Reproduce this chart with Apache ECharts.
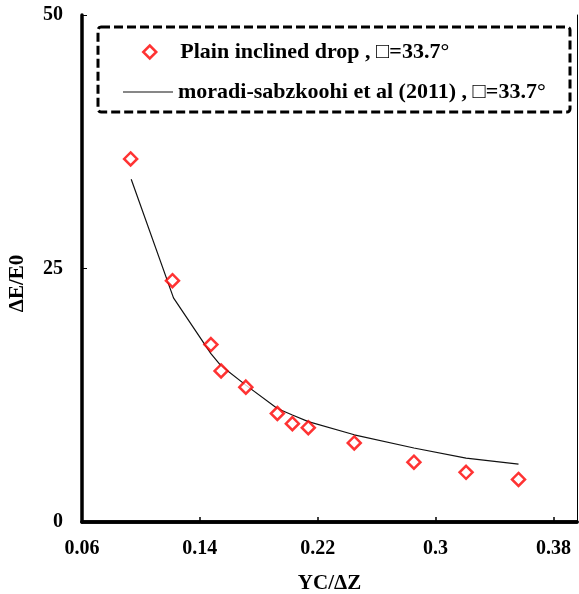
<!DOCTYPE html>
<html>
<head>
<meta charset="utf-8">
<script src="https://cdn.jsdelivr.net/npm/echarts@6/dist/echarts.min.js"></script>
<style>
html,body{margin:0;padding:0;background:#fff;}
#c{width:579px;height:594px;}
</style>
</head>
<body>
<div id="c"></div>
<script>
// Observed data: Plain inclined drop
const obsX = [0.0930, 0.1214, 0.1475, 0.1544, 0.1712, 0.1926, 0.2028, 0.2136, 0.2448, 0.2853, 0.3207, 0.3563];
const obsY = [35.8, 23.8, 17.5, 14.9, 13.3, 10.7, 9.7, 9.3, 7.8, 5.9, 4.9, 4.2];
// Model: moradi-sabzkoohi et al (2011)
const modelX = [0.0934, 0.1221, 0.1475, 0.1544, 0.1712, 0.1926, 0.2028, 0.2136, 0.2448, 0.2853, 0.3207, 0.3563];
const modelY = [33.8, 22.1, 16.6, 15.4, 13.5, 11.2, 10.55, 9.9, 8.6, 7.3, 6.3, 5.7];
const seriesNames = ['Plain inclined drop , \u25A1=33.7\u00B0', 'moradi-sabzkoohi et al (2011) , \u25A1=33.7\u00B0'];
const xTitle = 'YC/\u0394Z';
const yTitle = '\u0394E/E0';

const FONT = '"Liberation Serif", "Times New Roman", serif';
const legendText = {fontFamily: FONT, fontWeight: 'bold', fontSize: 22, color: '#000', lineHeight: 24};
const chart = echarts.init(document.getElementById('c'));
chart.setOption({
  animation: false,
  backgroundColor: '#fff',
  grid: {left: 82, right: 2, top: 15, bottom: 72, containLabel: false, outerBoundsMode: 'none'},
  graphic: [{
    type: 'rect', z: 1,
    shape: {x: 98, y: 27, width: 472, height: 85, r: 3},
    style: {fill: 'none', stroke: '#000', lineWidth: 3, lineDash: [9, 4]}
  }],
  legend: [{
    orient: 'vertical', left: 142, top: 40, padding: 0,
    itemWidth: 13, itemHeight: 13,
    textStyle: Object.assign({padding: [0, 0, 0, 19]}, legendText),
    data: [
      {name: seriesNames[0], icon: 'diamond', itemStyle: {color: '#fff', borderColor: '#f00', borderWidth: 2.5}}
    ]
  }, {
    orient: 'vertical', left: 123, top: 80, padding: 0,
    itemWidth: 50, itemHeight: 13,
    textStyle: legendText,
    data: [
      {name: seriesNames[1], icon: 'path://M0,0H50V1.2H0Z', itemStyle: {color: '#111', borderWidth: 0}}
    ]
  }],
  xAxis: [{
    type: 'value', min: 0.06, max: 0.396, interval: 0.08,
    axisLine: {lineStyle: {color: '#000', width: 3.5}},
    axisTick: {inside: true, length: 5, lineStyle: {color: '#000', width: 1.5}},
    splitLine: {show: false},
    axisLabel: {showMaxLabel: false, margin: 17, fontFamily: FONT, fontWeight: 'bold', fontSize: 20, color: '#000'},
    name: xTitle, nameLocation: 'middle', nameGap: 51,
    nameTextStyle: {fontFamily: FONT, fontWeight: 'bold', fontSize: 21, color: '#000'}
  }, {
    type: 'value', position: 'top', min: 0.06, max: 0.396,
    axisLine: {lineStyle: {color: '#000', width: 3.5}},
    axisTick: {show: false}, axisLabel: {show: false}, splitLine: {show: false}
  }],
  yAxis: [{
    type: 'value', min: 0, max: 50, interval: 25,
    axisLine: {show: true, lineStyle: {color: '#000', width: 3.5}},
    axisTick: {show: true, inside: true, length: 5, lineStyle: {color: '#000', width: 1}},
    splitLine: {show: false},
    axisLabel: {margin: 19, fontFamily: FONT, fontWeight: 'bold', fontSize: 20, color: '#000'},
    name: yTitle, nameLocation: 'middle', nameGap: 54, nameRotate: 90,
    nameTextStyle: {fontFamily: FONT, fontWeight: 'bold', fontSize: 21, color: '#000', padding: [0, 30, 0, 0]}
  }, {
    type: 'value', position: 'right', min: 0, max: 50,
    axisLine: {show: true, lineStyle: {color: '#000', width: 1}},
    axisTick: {show: false}, axisLabel: {show: false}, splitLine: {show: false}
  }],
  series: [{
    name: seriesNames[0], type: 'scatter', z: 3,
    symbol: 'diamond', symbolSize: 13,
    itemStyle: {color: '#fff', borderColor: '#f00', borderWidth: 2.5},
    data: obsX.map((x, i) => [x, obsY[i]])
  }, {
    name: seriesNames[1], type: 'line', z: 2,
    symbol: 'none',
    lineStyle: {color: '#111', width: 1.2},
    data: modelX.map((x, i) => [x, modelY[i]])
  }]
});
</script>
</body>
</html>
